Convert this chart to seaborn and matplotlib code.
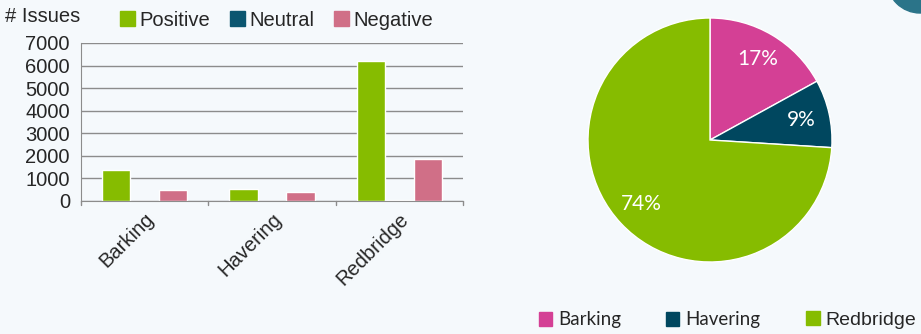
import pandas as pd
import matplotlib
matplotlib.use("Agg")
import matplotlib.pyplot as plt
import matplotlib.patches as mpatches
import seaborn as sns

# bar chart data
areas = ["Barking", "Havering", "Redbridge"]
positive = [1380, 530, 6200]
neutral = [0, 0, 40]
negative = [490, 410, 1860]
sentiments = ["Positive", "Neutral", "Negative"]

# pie data
pie_labels = ["Barking", "Havering", "Redbridge"]
pie_share = [17, 9, 74]

bg = "#F5F9FC"
bar_colors = {"Positive": "#86BC00", "Neutral": "#0B5670", "Negative": "#D06F87"}
pie_colors = ["#D44095", "#00475F", "#86BC00"]

df = pd.DataFrame({"Area": areas * 3,
                   "Sentiment": [s for s in sentiments for _ in areas],
                   "Issues": positive + neutral + negative})

sns.set_style("white")
plt.rcParams["font.family"] = ["Liberation Sans", "DejaVu Sans"]

fs = 14.5
fig = plt.figure(figsize=(9.21, 3.34), dpi=100, facecolor=bg)

# --- bar chart ---
ax = fig.add_axes([81 / 921, 1 - 201 / 334, 382 / 921, 158 / 334])
ax.set_facecolor(bg)
sns.barplot(data=df, x="Area", y="Issues", hue="Sentiment", order=areas,
            hue_order=sentiments, palette=bar_colors, width=0.67,
            saturation=1, ax=ax, legend=False)
ax.set_ylim(0, 7000)
ax.set_xlim(-0.5, 2.5)
ax.set_yticks(range(0, 7001, 1000))
ax.yaxis.grid(True, color="#8C8C8C", linewidth=1)
ax.set_axisbelow(True)
ax.tick_params(axis="y", labelsize=fs, length=6, color="#8C8C8C", pad=2)
ax.set_xticks([0, 1, 2])
ax.set_xticklabels(areas, rotation=45, ha="right", va="top",
                   rotation_mode="anchor", fontsize=fs)
ax.tick_params(axis="x", length=0, pad=6)
for b in [-0.5, 0.5, 1.5, 2.5]:
    ax.plot([b, b], [0, -180], color="#8C8C8C", lw=1, clip_on=False)
for s in ["top", "right"]:
    ax.spines[s].set_visible(False)
for s in ["left", "bottom"]:
    ax.spines[s].set_color("#8C8C8C")
ax.set_xlabel("")
ax.set_ylabel("")
fig.text(5 / 921, 1 - 17 / 334, "# Issues", fontsize=fs, va="center")
handles = [mpatches.Patch(color=bar_colors[s], label=s) for s in sentiments]
fig.legend(handles=handles, loc="center left", bbox_to_anchor=(112 / 921, 1 - 20 / 334),
           ncol=3, frameon=False, fontsize=fs, handlelength=0.75, handleheight=0.75,
           handletextpad=0.2, columnspacing=1.0, borderaxespad=0)

# --- pie chart ---
pax = fig.add_axes([588 / 921, 1 - 262 / 334, 244 / 921, 244 / 334])
pax.set_facecolor(bg)
wedges, texts, autotexts = pax.pie(pie_share, colors=pie_colors, startangle=90,
                                   counterclock=False, autopct="%d%%",
                                   pctdistance=0.77, radius=1,
                                   textprops={"color": "white", "fontsize": 15,
                                              "family": "Lato"})
pax.set_xlim(-1, 1)
pax.set_ylim(-1, 1)
pax.set_aspect("equal")
pax.axis("off")

# one legend per pie entry so each sits where the reference puts it
legend_x = [539, 666, 806]
for c, l, x in zip(pie_colors, pie_labels, legend_x):
    if l == "Redbridge":
        prop = {"family": "Liberation Sans", "size": 14}
    else:
        prop = {"family": "Lato", "size": 13.5}
    fig.legend(handles=[mpatches.Patch(color=c, label=l)], loc="center left",
               bbox_to_anchor=(x / 921, 1 - 320 / 334), frameon=False, prop=prop,
               handlelength=0.7, handleheight=0.7, handletextpad=0.3,
               borderaxespad=0, borderpad=0)

# corner decoration
fig.patches.append(mpatches.Circle((9.20, 3.54), 0.33, color="#2B7489",
                                   transform=fig.dpi_scale_trans))

fig.savefig("out.png", dpi=100, facecolor=bg)
